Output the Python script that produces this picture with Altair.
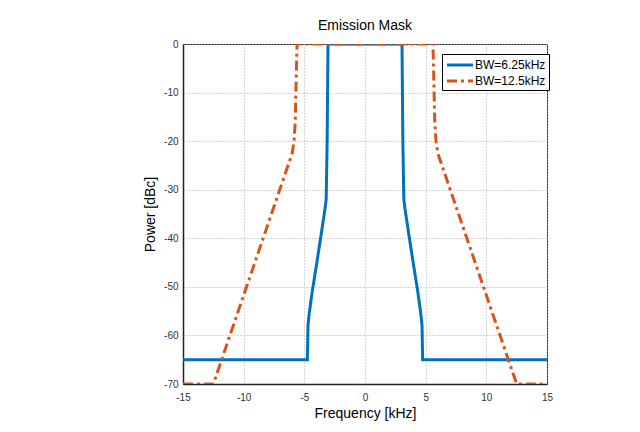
import altair as alt
import pandas as pd

# Series 1: BW=6.25kHz (frequency kHz, power dBc)
bw1_freq = [-15, -4.75, -4.7, -4.6, -4.35, -4.0, -3.6, -3.3, -3.2, -3.12, -3.05,
            3.05, 3.12, 3.2, 3.3, 3.6, 4.0, 4.35, 4.6, 4.7, 4.75, 15]
bw1_pow = [-65, -65, -58, -55.5, -51, -45.5, -39, -34, -32, -20, 0,
           0, -20, -32, -34, -39, -45.5, -51, -55.5, -58, -65, -65]

# Series 2: BW=12.5kHz
bw2_freq = [-15, -12.5, -6.0, -5.85, -5.75, -5.65, -5.6,
            5.6, 5.65, 5.75, 5.85, 6.0, 12.5, 15]
bw2_pow = [-70, -70, -22.5, -20, -16, -5, 0,
           0, -5, -16, -20, -22.5, -70, -70]

series_names = ["BW=6.25kHz", "BW=12.5kHz"]
series_colors = ["#0072BD", "#D95319"]
x_ticks = [-15, -10, -5, 0, 5, 10, 15]
y_ticks = [0, -10, -20, -30, -40, -50, -60, -70]

rows = []
for i, (f, p) in enumerate(zip(bw1_freq, bw1_pow)):
    rows.append({"f": f, "p": p, "s": series_names[0], "o": i})
for i, (f, p) in enumerate(zip(bw2_freq, bw2_pow)):
    rows.append({"f": f, "p": p, "s": series_names[1], "o": i})
df = pd.DataFrame(rows)

font = "Liberation Sans"

chart = alt.Chart(df).mark_line(strokeWidth=3, clip=True).encode(
    x=alt.X("f:Q", scale=alt.Scale(domain=[-15, 15], nice=False),
            axis=alt.Axis(values=x_ticks, title="Frequency [kHz]",
                          labelExpr="datum.value + ''")),
    y=alt.Y("p:Q", scale=alt.Scale(domain=[-70, 0], nice=False),
            axis=alt.Axis(values=y_ticks, title="Power [dBc]",
                          labelExpr="datum.value + ''")),
    color=alt.Color("s:N", scale=alt.Scale(domain=series_names, range=series_colors),
                    sort=series_names,
                    legend=alt.Legend(title=None, orient="none", legendX=259, legendY=10,
                                      symbolType="M-2,0H2", symbolSize=169,
                                      symbolOffset=7,
                                      symbolStrokeWidth=3, labelFontSize=12,
                                      labelFont=font, labelColor="#000",
                                      fillColor="white", strokeColor="#000",
                                      padding=3, rowPadding=2, labelOffset=7)),
    strokeDash=alt.StrokeDash("s:N", scale=alt.Scale(domain=series_names,
                                                      range=[[1, 0], [10, 4, 3, 4]]),
                              sort=series_names, legend=None),
    order=alt.Order("o:Q"),
).properties(
    width=364, height=340,
    title=alt.TitleParams("Emission Mask", font=font, fontSize=14, fontWeight="normal",
                          color="#000", offset=6),
    autosize=alt.AutoSizeParams(type="none"),
    padding={"left": 175, "top": 36, "right": 85, "bottom": 40},
).configure_view(
    stroke="#222", strokeWidth=1
).configure_axis(
    grid=True, gridColor="#aaaaaa", gridDash=[1, 2], gridWidth=1,
    domainColor="#222", domainWidth=1.5, ticks=False,
    labelFont=font, labelFontSize=10, labelColor="#333", labelFlush=False,
    titleFont=font, titleFontSize=14, titleFontWeight="normal", titleColor="#000",
).configure_axisX(
    labelPadding=8, titlePadding=4
).configure_axisY(
    labelPadding=5, titlePadding=6
)

chart.save("out.html", embed_options={"renderer": "svg", "actions": False})
